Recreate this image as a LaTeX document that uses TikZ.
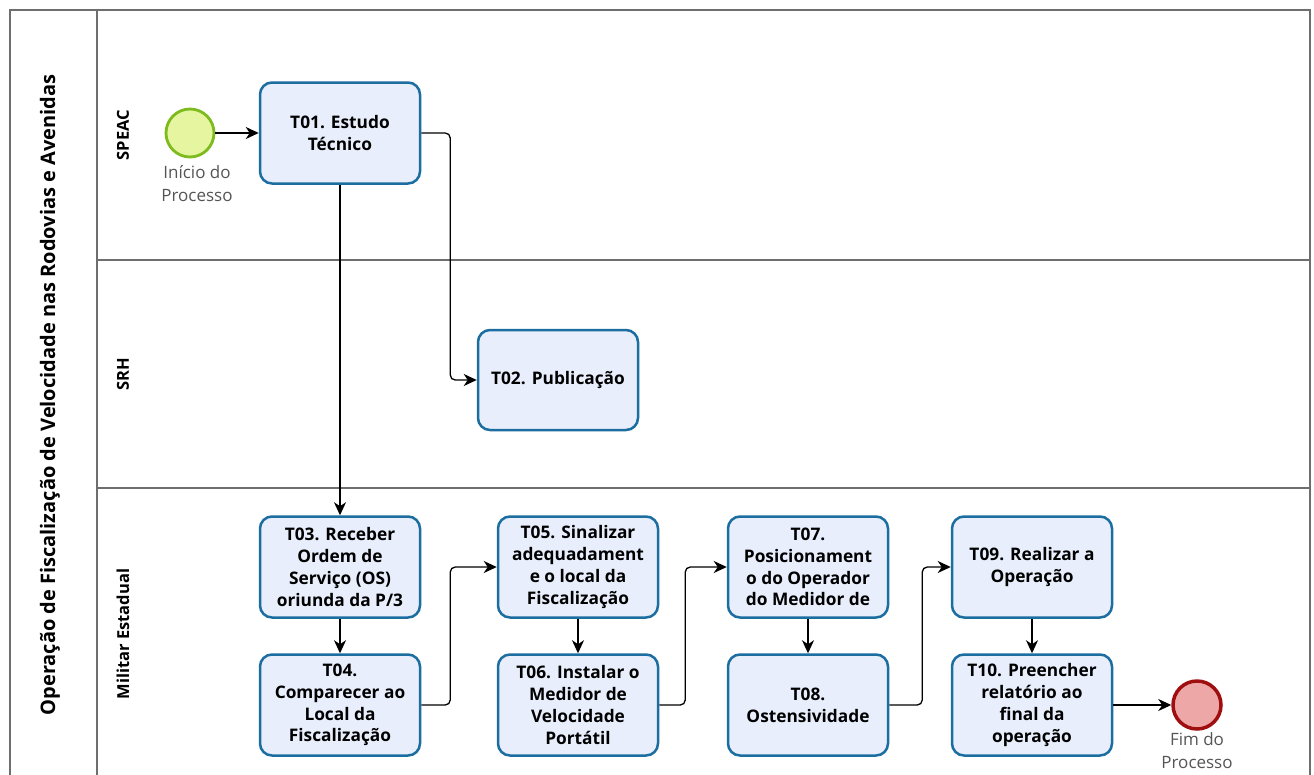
\documentclass[tikz,border=0pt]{standalone}
\usepackage{fontspec}
\setmainfont{Open Sans}
\usetikzlibrary{arrows.meta}
\definecolor{taskfill}{RGB}{232,238,252}
\definecolor{taskdraw}{RGB}{28,110,160}
\definecolor{startfill}{RGB}{230,245,160}
\definecolor{startdraw}{RGB}{125,187,30}
\definecolor{endfill}{RGB}{238,167,167}
\definecolor{enddraw}{RGB}{160,15,15}
\definecolor{poolline}{RGB}{110,110,110}
\definecolor{evlabel}{RGB}{85,85,85}
\tikzset{
  task/.style={draw=taskdraw, fill=taskfill, line width=2.5pt, rounded corners=12pt,
    minimum width=160pt, minimum height=101pt, align=center, inner sep=1pt,
    font=\bfseries\fontsize{17.3}{21.8}\selectfont},
  startev/.style={circle, draw=startdraw, fill=startfill, line width=2.8pt, minimum size=48pt, inner sep=0pt},
  endev/.style={circle, draw=enddraw, fill=endfill, line width=3.5pt, minimum size=48pt, inner sep=0pt},
  evtext/.style={text=evlabel, align=center, font=\fontsize{17}{23}\selectfont},
  lanetext/.style={rotate=90, font=\bfseries\fontsize{16.5}{18}\selectfont},
  pooltext/.style={rotate=90, font=\bfseries\fontsize{20}{22}\selectfont},
  flow/.style={line width=1.3pt, rounded corners=5pt, -{Stealth[length=13pt,width=12pt,inset=4pt]}},
  frame/.style={draw=poolline, line width=1.5pt}
}
\begin{document}
\begin{tikzpicture}[x=1pt,y=-1pt]
\useasboundingbox (0,0) rectangle (1314,774);
\clip (0,0) rectangle (1314,774);
\fill[white] (0,0) rectangle (1314,774);
% pool and lanes
\draw[frame] (10,10) rectangle (1310,800);
\draw[frame] (97,10) -- (97,800);
\draw[frame] (97,260) -- (1310,260);
\draw[frame] (97,488) -- (1310,488);
\node[pooltext] (pool) at (50,395) {Operação de Fiscalização de Velocidade nas Rodovias e Avenidas};
\node[lanetext] (l1) at (123,135) {SPEAC};
\node[lanetext] (l2) at (123,374) {SRH};
\node[lanetext] (l3) at (123,634) {Militar Estadual};
% events
\node[startev] (start) at (190,133) {};
\node[evtext] (startlbl) at (197,184) {Início do\\Processo};
\node[endev] (end) at (1197,705) {};
\node[evtext] (endlbl) at (1197,751) {Fim do\\Processo};
% tasks
\node[task] (t01) at (340,133) {T01. Estudo\\Técnico};
\node[task, minimum height=100pt] (t02) at (558,380) {T02. Publicação};
\node[task] (t03) at (340,567) {T03. Receber\\Ordem de\\Serviço (OS)\\oriunda da P/3};
\node[task] (t04) at (340,705) {T04.\\Comparecer ao\\Local da\\Fiscalização};
\node[task] (t05) at (578,567) {T05. Sinalizar\\adequadament\\e o local da\\Fiscalização};
\node[task] (t06) at (578,705) {T06. Instalar o\\Medidor de\\Velocidade\\Portátil};
\node[task] (t07) at (808,567) {T07.\\Posicionament\\o do Operador\\do Medidor de};
\node[task] (t08) at (808,705) {T08.\\Ostensividade};
\node[task] (t09) at (1032,567) {T09. Realizar a\\Operação};
\node[task] (t10) at (1032,705) {T10. Preencher\\relatório ao\\final da\\operação};
% flows
\draw[flow] (start) -- (t01);
\draw[flow] (t01) -- (t03);
\draw[flow] (t01.east) -- ++(29,0) |- (t02.west);
\draw[flow] (t03) -- (t04);
\draw[flow] (t04.east) -- ++(29,0) |- (t05.west);
\draw[flow] (t05) -- (t06);
\draw[flow] (t06.east) -- ++(26,0) |- (t07.west);
\draw[flow] (t07) -- (t08);
\draw[flow] (t08.east) -- ++(33,0) |- (t09.west);
\draw[flow] (t09) -- (t10);
\draw[flow] (t10) -- (end);
\end{tikzpicture}
\end{document}
